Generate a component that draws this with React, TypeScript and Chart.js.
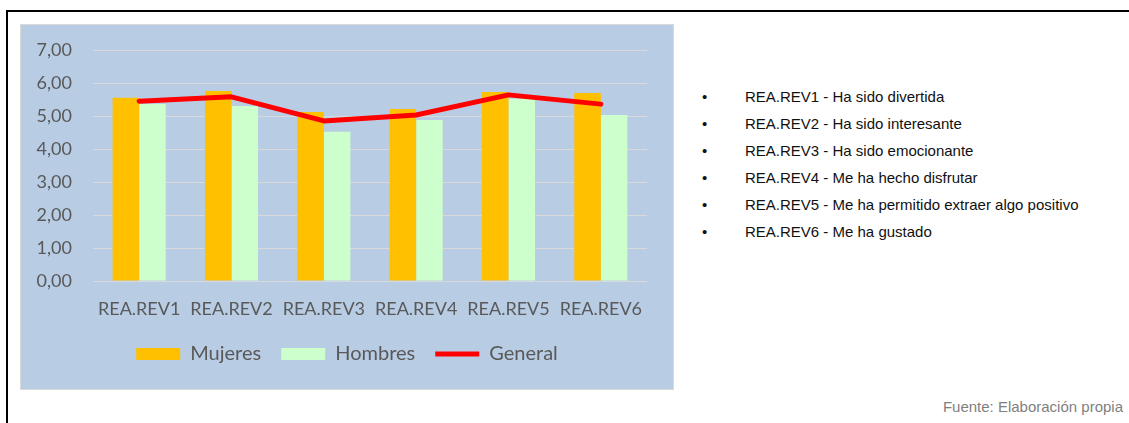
import React, { useEffect, useRef } from "react";
import { Chart, registerables } from "chart.js";

Chart.register(...registerables);

const categories = ["REA.REV1", "REA.REV2", "REA.REV3", "REA.REV4", "REA.REV5", "REA.REV6"];
const mujeres = [5.55, 5.76, 5.12, 5.21, 5.73, 5.7];
const hombres = [5.36, 5.3, 4.52, 4.88, 5.52, 5.03];
const general = [5.45, 5.58, 4.85, 5.03, 5.64, 5.36];
const seriesNames = ["Mujeres", "Hombres", "General"];
const descriptions = [
  "REA.REV1 - Ha sido divertida",
  "REA.REV2 - Ha sido interesante",
  "REA.REV3 - Ha sido emocionante",
  "REA.REV4 - Me ha hecho disfrutar",
  "REA.REV5 - Me ha permitido extraer algo positivo",
  "REA.REV6 - Me ha gustado",
];
const sourceText = "Fuente: Elaboración propia";

const TEXT = "#595959";
const FONT = "Lato, 'DejaVu Sans', sans-serif";

export default function App() {
  const canvasRef = useRef<HTMLCanvasElement | null>(null);

  useEffect(() => {
    if (!canvasRef.current) return;
    const chart = new Chart(canvasRef.current, {
      type: "bar",
      data: {
        labels: categories,
        datasets: [
          {
            type: "bar",
            label: seriesNames[0],
            data: mujeres,
            backgroundColor: "#FFC000",
            borderWidth: 0,
            order: 1,
            categoryPercentage: 0.575,
            barPercentage: 1,
          } as any,
          {
            type: "bar",
            label: seriesNames[1],
            data: hombres,
            backgroundColor: "#CCFFCC",
            borderWidth: 0,
            order: 1,
            categoryPercentage: 0.575,
            barPercentage: 1,
          } as any,
          {
            type: "line",
            label: seriesNames[2],
            data: general,
            borderColor: "#FF0000",
            backgroundColor: "#FF0000",
            borderWidth: 5,
            pointRadius: 0,
            tension: 0,
            borderCapStyle: "round",
            borderJoinStyle: "round",
            order: 0,
          } as any,
        ],
      },
      options: {
        animation: false,
        responsive: false,
        maintainAspectRatio: false,
        layout: { padding: { top: 25, right: 0, bottom: 15, left: 0 } },
        plugins: {
          tooltip: { enabled: false },
          legend: {
            position: "bottom",
            labels: {
              usePointStyle: true,
              pointStyleWidth: 44,
              boxHeight: 12,
              padding: 20,
              color: TEXT,
              font: { family: FONT, size: 20 },
              generateLabels: (c: any) => {
                const items = Chart.defaults.plugins.legend.labels.generateLabels(c);
                return items
                  .sort((a: any, b: any) => a.datasetIndex - b.datasetIndex)
                  .map((it: any) => ({
                    ...it,
                    pointStyle: it.datasetIndex === 2 ? "line" : "rect",
                    lineWidth: it.datasetIndex === 2 ? 5 : 0,
                    strokeStyle: it.datasetIndex === 2 ? "#FF0000" : it.fillStyle,
                  }));
              },
            },
          },
        },
        scales: {
          x: {
            afterFit: (s: any) => {
              s.height = 43;
            },
            grid: { display: false, drawTicks: false },
            border: { display: false },
            ticks: { color: TEXT, font: { family: FONT, size: 18 }, padding: 17 },
          },
          y: {
            min: 0,
            max: 7,
            afterFit: (s: any) => {
              s.width = 72;
              s.paddingTop = 0;
              s.paddingBottom = 0;
            },
            grid: { color: "#d9d9d9", lineWidth: 1, drawTicks: false },
            border: { display: false },
            ticks: {
              stepSize: 1,
              padding: 21,
              color: TEXT,
              font: { family: FONT, size: 18 },
              callback: (v: any) => Number(v).toFixed(2).replace(".", ","),
            },
          },
          yRight: {
            type: "linear",
            position: "right",
            display: true,
            afterFit: (s: any) => {
              s.width = 26;
              s.paddingTop = 0;
              s.paddingBottom = 0;
            },
            grid: { display: false, drawTicks: false },
            border: { display: false },
            ticks: { display: false },
          },
        },
      },
    });
    return () => chart.destroy();
  }, []);

  return (
    <div
      style={{
        position: "fixed",
        left: 0,
        top: 0,
        width: 1129,
        height: 423,
        background: "#ffffff",
        overflow: "hidden",
      }}
    >
      <div
        style={{
          position: "absolute",
          left: 6,
          top: 10,
          width: 1300,
          height: 600,
          borderTop: "2px solid #000",
          borderLeft: "2px solid #000",
        }}
      />
      <div
        style={{
          position: "absolute",
          left: 20,
          top: 24,
          width: 652,
          height: 364,
          background: "#b8cce4",
          border: "1px solid #d9d9d9",
        }}
      >
        <canvas ref={canvasRef} width={652} height={364} style={{ display: "block" }} />
      </div>
      {descriptions.map((d, i) => (
        <div
          key={i}
          style={{
            position: "absolute",
            left: 702,
            top: 83 + i * 27,
            height: 27,
            lineHeight: "27px",
            fontFamily: "'Liberation Sans', Arial, sans-serif",
            fontSize: 15,
            color: "#111111",
            whiteSpace: "nowrap",
          }}
        >
          <span style={{ display: "inline-block", width: 43 }}>•</span>
          {d}
        </div>
      ))}
      <div
        style={{
          position: "absolute",
          right: 6,
          top: 397,
          lineHeight: "20px",
          fontFamily: "'Liberation Sans', Arial, sans-serif",
          fontSize: 15,
          color: "#7f7f7f",
          whiteSpace: "nowrap",
        }}
      >
        {sourceText}
      </div>
    </div>
  );
}
